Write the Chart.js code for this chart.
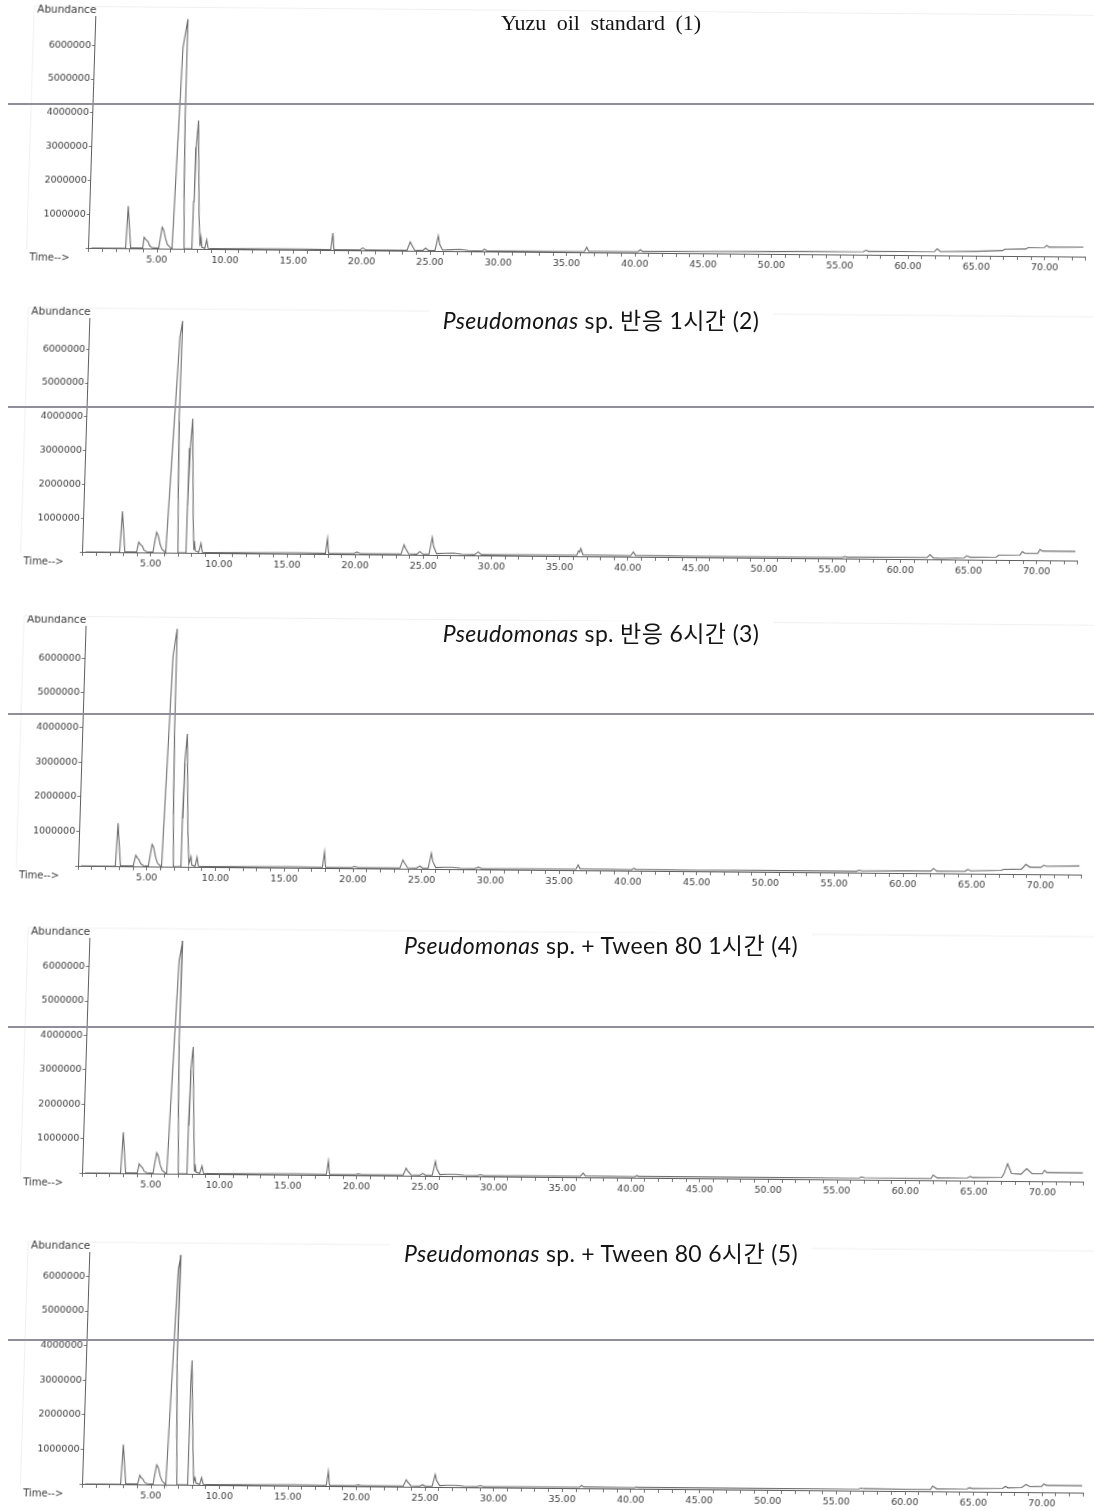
<!DOCTYPE html>
<html>
<head>
<meta charset="utf-8">
<script src="https://cdn.jsdelivr.net/npm/chart.js@4.4.1/dist/chart.umd.min.js"></script>
<style>
  html, body { margin: 0; padding: 0; background: #fff; }
  body { width: 1094px; height: 1510px; position: relative; overflow: hidden; }
  canvas.panel { position: absolute; left: 0; transform-origin: 547px 250px; transform: rotate(0.5deg) skewX(-1.3deg); }
  .title { position: absolute; left: 601px; transform: translateX(-50%); background: #fff; padding: 0 14px; white-space: nowrap; color: #141414; line-height: 1; z-index: 3; }
  .t-serif { font-family: "Liberation Serif", "Times New Roman", serif; font-size: 22px; word-spacing: 5px; }
  .t-sans { font-family: "Lato", "Noto Sans CJK KR", sans-serif; font-size: 23px; letter-spacing: 0.3px; }
  .t-sans .ko { font-family: "Noto Sans CJK KR", sans-serif; font-size: 23px; letter-spacing: 0.5px; }
  .rule { position: absolute; left: 8px; width: 1086px; height: 2px; background: #8e8e9e; z-index: 2; }
</style>
</head>
<body>
<div class="title t-serif" style="top:12px">Yuzu oil standard (1)</div>
<div class="title t-sans" style="top:308px"><i>Pseudomonas</i> sp. <span class="ko">반응</span> 1<span class="ko">시간</span> (2)</div>
<div class="title t-sans" style="top:621px"><i>Pseudomonas</i> sp. <span class="ko">반응</span> 6<span class="ko">시간</span> (3)</div>
<div class="title t-sans" style="top:933px"><i>Pseudomonas</i> sp. + Tween 80 1<span class="ko">시간</span> (4)</div>
<div class="title t-sans" style="top:1241px"><i>Pseudomonas</i> sp. + Tween 80 6<span class="ko">시간</span> (5)</div>

<div class="rule" style="top:103px"></div>
<div class="rule" style="top:406px"></div>
<div class="rule" style="top:713px"></div>
<div class="rule" style="top:1026px"></div>
<div class="rule" style="top:1339px"></div>

<canvas class="panel" id="c1" width="1094" height="295" style="top:2px"></canvas>
<canvas class="panel" id="c2" width="1094" height="295" style="top:306px"></canvas>
<canvas class="panel" id="c3" width="1094" height="295" style="top:620px"></canvas>
<canvas class="panel" id="c4" width="1094" height="295" style="top:927px"></canvas>
<canvas class="panel" id="c5" width="1094" height="295" style="top:1238px"></canvas>

<script>
// Retention time axis (min)
const timeTickValues = [5, 10, 15, 20, 25, 30, 35, 40, 45, 50, 55, 60, 65, 70];
const timeTickLabels = ['5.00', '10.00', '15.00', '20.00', '25.00', '30.00', '35.00',
                        '40.00', '45.00', '50.00', '55.00', '60.00', '65.00', '70.00'];
// Abundance axis (values in millions of counts)
const abundanceTickValues = [1, 2, 3, 4, 5, 6];
const abundanceTickLabels = ['1000000', '2000000', '3000000', '4000000', '5000000', '6000000'];
const axisTitles = ['Abundance', 'Time-->'];

// Total ion chromatograms: [retention time (min), abundance (x10^6)]
const standardTrace = [
  [0.2,0],[2.7,0],[2.8,1.25],[3.07,0.01],
  [3.95,0.01],[4.03,0.33],[4.15,0.27],[4.34,0.2],[4.45,0.08],[4.65,0.02],
  [5.12,0.01],[5.22,0.3],[5.33,0.63],[5.45,0.55],[5.6,0.3],[5.75,0.12],[5.95,0.04],[6.08,0.01],
  [6.1,0],[6.44,5.95],[6.74,6.8],[6.76,3.9],[6.86,1.5],[6.77,3.8],[6.87,1.5],[6.98,0],
  [7.55,0],[7.57,1.4],[7.63,3.0],[7.58,1.4],[7.64,3.0],[7.75,3.8],[8.0,1.0],[8.14,0.08],
  [8.2,0.34],[8.28,0.05],[8.5,0.02],[8.62,0.27],[8.74,0.02],
  [9.5,0.01],[13,0.02],[15.5,0.02],[17.72,0.01],[17.84,0.5],[17.95,0.01],
  [19.85,0.01],[20.06,0.07],[20.3,0.01],
  [23.3,0.01],[23.52,0.26],[23.6,0.2],[23.85,0.02],
  [24.45,0.01],[24.65,0.08],[24.9,0.01],
  [25.35,0.01],[25.56,0.45],[25.68,0.2],[25.9,0.03],
  [26.5,0.04],[27.2,0.05],[27.8,0.02],
  [28.75,0.01],[28.98,0.06],[29.2,0.01],
  [33,0.02],[36.3,0.03],[36.45,0.15],[36.6,0.03],
  [40.2,0.03],[40.38,0.09],[40.55,0.04],
  [45,0.05],[50,0.07],[56.7,0.09],[56.9,0.13],[57.1,0.1],
  [61.9,0.11],[62.1,0.19],[62.35,0.11],[65,0.13],[66.9,0.16],[67.05,0.2],
  [68.6,0.21],[68.75,0.25],[69.95,0.26],[70.12,0.32],[70.3,0.27],[72.8,0.28]
];

const pseudo1hTrace = [
  [0.2,0],[2.7,0],[2.82,1.21],[3.08,0.01],
  [3.95,0.01],[4.08,0.3],[4.2,0.24],[4.36,0.18],[4.48,0.07],[4.68,0.02],
  [5.15,0.01],[5.25,0.3],[5.37,0.6],[5.5,0.5],[5.65,0.25],[5.8,0.1],[6.0,0.03],[6.07,0.01],
  [6.08,0],[6.63,6.39],[6.8,6.86],[6.76,3.95],[6.87,1.6],[6.78,3.9],[6.88,1.6],[6.98,0],
  [7.55,0],[7.57,1.4],[7.64,3.1],[7.58,1.4],[7.65,3.1],[7.76,3.97],[8.02,1.0],[8.14,0.08],
  [8.16,0.35],[8.25,0.06],[8.5,0.02],[8.65,0.28],[8.77,0.02],
  [9.5,0.01],[13,0.02],[15.5,0.03],[17.8,0.02],[17.92,0.46],[18.03,0.02],
  [19.9,0.02],[20.1,0.06],[20.35,0.02],
  [23.35,0.02],[23.55,0.29],[23.65,0.2],[23.9,0.03],
  [24.5,0.02],[24.72,0.1],[24.95,0.02],
  [25.4,0.02],[25.6,0.52],[25.72,0.25],[25.95,0.04],
  [26.6,0.05],[27.2,0.06],[27.8,0.03],
  [28.75,0.02],[29.0,0.1],[29.25,0.02],
  [33,0.03],[36.25,0.03],[36.35,0.15],[36.45,0.12],[36.52,0.23],[36.7,0.04],
  [40.2,0.03],[40.38,0.14],[40.55,0.04],
  [45,0.03],[50,0.03],[55.7,0.03],[55.9,0.06],[56.1,0.04],[60,0.05],
  [61.95,0.05],[62.15,0.14],[62.4,0.04],[63,0.03],[64.65,0.05],[64.85,0.11],[65.1,0.07],
  [67.0,0.08],[67.2,0.14],[68.75,0.15],[68.92,0.25],[69.1,0.2],[70.05,0.2],[70.2,0.32],[70.4,0.27],[72.8,0.27]
];

const pseudo6hTrace = [
  [0.2,0],[2.7,0],[2.8,1.24],[3.07,0.01],
  [4.0,0.01],[4.16,0.32],[4.28,0.25],[4.42,0.18],[4.55,0.07],[4.75,0.02],
  [5.1,0.01],[5.2,0.3],[5.32,0.64],[5.45,0.55],[5.6,0.28],[5.75,0.1],[5.95,0.03],[6.05,0.01],
  [6.06,0],[6.42,6.1],[6.66,6.88],[6.7,3.9],[6.8,1.5],[6.71,3.8],[6.81,1.5],[6.92,0],
  [7.45,0],[7.47,1.4],[7.53,3.0],[7.48,1.4],[7.54,3.0],[7.64,3.84],[7.9,1.0],[8.04,0.08],
  [8.18,0.3],[8.26,0.05],[8.5,0.02],[8.62,0.28],[8.74,0.02],
  [9.5,0.01],[13,0.02],[15.5,0.03],[17.76,0.02],[17.88,0.46],[17.99,0.02],
  [19.9,0.02],[20.1,0.05],[20.35,0.02],
  [23.4,0.02],[23.6,0.25],[23.7,0.18],[23.95,0.03],
  [24.6,0.02],[24.85,0.08],[25.05,0.02],
  [25.45,0.02],[25.65,0.45],[25.77,0.22],[26.0,0.04],
  [26.6,0.05],[27.2,0.05],[27.8,0.03],
  [28.85,0.02],[29.1,0.06],[29.35,0.02],
  [33,0.03],[36.2,0.03],[36.35,0.15],[36.5,0.04],
  [40.25,0.03],[40.4,0.07],[40.55,0.04],
  [45,0.03],[50,0.04],[56.6,0.04],[56.8,0.07],[57,0.05],[60,0.06],
  [62.0,0.06],[62.2,0.14],[62.45,0.06],[64.5,0.07],[64.7,0.12],[64.9,0.08],
  [67.1,0.1],[67.3,0.13],[68.6,0.14],[68.9,0.28],[69.2,0.2],[70.0,0.2],[70.2,0.26],[70.4,0.23],[72.8,0.25]
];

const tween1hTrace = [
  [0.2,0],[2.78,0],[2.89,1.19],[3.15,0.01],
  [4.0,0.01],[4.12,0.28],[4.22,0.22],[4.38,0.16],[4.5,0.06],[4.7,0.02],
  [5.15,0.01],[5.25,0.3],[5.37,0.6],[5.5,0.5],[5.65,0.25],[5.8,0.1],[6.0,0.03],[6.12,0.01],
  [6.14,0],[6.56,6.19],[6.78,6.77],[6.75,3.82],[6.86,1.64],[6.76,3.75],[6.87,1.64],[6.99,0],
  [7.6,0],[7.62,1.4],[7.68,3.0],[7.63,1.4],[7.69,3.0],[7.79,3.69],[8.05,1.0],[8.16,0.08],
  [8.19,0.28],[8.28,0.05],[8.55,0.02],[8.7,0.23],[8.82,0.02],
  [9.5,0.01],[13,0.02],[15.5,0.03],[17.78,0.02],[17.9,0.41],[18.01,0.02],
  [19.9,0.02],[20.1,0.04],[20.35,0.02],
  [23.38,0.02],[23.58,0.22],[23.68,0.15],[23.95,0.03],
  [24.6,0.02],[24.8,0.07],[25.0,0.02],
  [25.5,0.02],[25.7,0.42],[25.82,0.2],[26.05,0.04],
  [26.6,0.05],[27.2,0.05],[27.8,0.03],
  [28.8,0.02],[29.0,0.05],[29.25,0.02],
  [33,0.03],[36.3,0.03],[36.5,0.12],[36.65,0.04],
  [40.25,0.03],[40.4,0.06],[40.55,0.04],
  [45,0.04],[50,0.04],[56.6,0.05],[56.8,0.08],[57,0.06],[60,0.05],
  [61.85,0.05],[62.0,0.15],[62.3,0.07],[64.5,0.08],[64.7,0.12],[64.9,0.09],
  [67.0,0.1],[67.15,0.2],[67.4,0.5],[67.7,0.22],[68.4,0.2],[68.8,0.36],[69.2,0.22],
  [69.95,0.22],[70.1,0.32],[70.3,0.25],[72.9,0.25]
];

const tween6hTrace = [
  [0.2,0],[2.78,0],[2.89,1.15],[3.15,0.01],
  [4.02,0.01],[4.16,0.26],[4.26,0.2],[4.4,0.15],[4.52,0.06],[4.72,0.02],
  [5.15,0.01],[5.25,0.3],[5.37,0.57],[5.5,0.48],[5.65,0.24],[5.8,0.1],[6.0,0.03],[6.06,0.01],
  [6.07,0],[6.5,6.24],[6.66,6.64],[6.62,3.5],[6.77,1.33],[6.63,3.45],[6.78,1.33],[6.88,0],
  [7.63,0],[7.64,1.3],[7.68,2.9],[7.65,1.3],[7.69,2.9],[7.71,3.6],[7.98,1.0],[8.1,0.08],
  [8.19,0.21],[8.28,0.05],[8.55,0.02],[8.67,0.21],[8.8,0.02],
  [9.5,0.01],[13,0.02],[15.5,0.03],[17.78,0.02],[17.9,0.42],[18.01,0.02],
  [19.9,0.02],[20.1,0.04],[20.35,0.02],
  [23.4,0.02],[23.6,0.2],[23.7,0.14],[23.95,0.03],
  [24.6,0.02],[24.8,0.06],[25.0,0.02],
  [25.5,0.02],[25.7,0.36],[25.82,0.18],[26.05,0.04],
  [26.6,0.05],[27.2,0.05],[27.8,0.03],
  [28.8,0.02],[29.0,0.05],[29.25,0.02],
  [33,0.03],[36.25,0.03],[36.4,0.08],[36.55,0.04],
  [40.25,0.03],[40.4,0.05],[40.55,0.04],
  [45,0.04],[50,0.04],[56.6,0.05],[56.8,0.07],[57,0.06],[60,0.05],
  [61.85,0.05],[62.0,0.15],[62.3,0.07],[64.5,0.08],[64.7,0.11],[64.9,0.09],
  [67.1,0.1],[67.3,0.16],[67.5,0.12],[68.5,0.13],[68.8,0.22],[69.1,0.16],
  [69.95,0.17],[70.1,0.24],[70.3,0.2],[72.9,0.2]
];

const traces = [standardTrace, pseudo1hTrace, pseudo6hTrace, tween1hTrace, tween6hTrace];

// Plot frame geometry for each canvas (pixels inside the canvas)
const TIME_MAX = 73;
const BASELINE_Y = 250;
const panelFrames = [
  { id: 'c1', x0: 88.7, pxPerMin: 13.66, pxPerMillion: 33.8, yMax: 6.85 },
  { id: 'c2', x0: 82.8, pxPerMin: 13.63, pxPerMillion: 33.8, yMax: 6.92 },
  { id: 'c3', x0: 78.2, pxPerMin: 13.75, pxPerMillion: 34.6, yMax: 6.92 },
  { id: 'c4', x0: 82.4, pxPerMin: 13.72, pxPerMillion: 34.4, yMax: 6.83 },
  { id: 'c5', x0: 82.5, pxPerMin: 13.71, pxPerMillion: 34.6, yMax: 6.7 }
];

const INK = '#3a3a3a';
const AXIS = '#5e5e5e';
const TRACE = '#6c6c6c';

// Faint plot frame, "Abundance" and "Time-->" captions
const chromFrame = {
  id: 'chromFrame',
  beforeDraw(chart) {
    const { ctx, chartArea: a } = chart;
    ctx.save();
    ctx.strokeStyle = '#f0f0f3';
    ctx.lineWidth = 1;
    ctx.beginPath();
    ctx.moveTo(a.left - 62, a.top - 10);
    ctx.lineTo(chart.width, a.top - 10);
    ctx.moveTo(a.left - 62, a.top - 10);
    ctx.lineTo(a.left - 62, a.bottom + 2);
    ctx.stroke();
    ctx.restore();
  },
  afterDraw(chart) {
    const { ctx, chartArea: a } = chart;
    ctx.save();
    ctx.fillStyle = INK;
    ctx.textBaseline = 'middle';
    ctx.textAlign = 'left';
    ctx.font = '10.5px "DejaVu Sans"';
    ctx.fillText(axisTitles[0], a.left - 59, a.top - 6);
    ctx.font = '10px "DejaVu Sans"';
    ctx.fillText(axisTitles[1], a.left - 59, a.bottom + 10);
    ctx.restore();
  }
};

function labelFrom(values, labels, v) {
  const i = values.indexOf(Math.round(v * 1000) / 1000);
  return i >= 0 ? labels[i] : '';
}

panelFrames.forEach((f, k) => {
  const canvas = document.getElementById(f.id);
  const right = f.x0 + TIME_MAX * f.pxPerMin;
  new Chart(canvas, {
    type: 'scatter',
    data: {
      datasets: [{
        data: traces[k].map(([t, a]) => ({ x: t, y: a })),
        showLine: true,
        borderColor: TRACE,
        borderWidth: 1.1,
        pointRadius: 0,
        tension: 0,
        clip: 4
      }]
    },
    options: {
      responsive: false,
      animation: false,
      devicePixelRatio: 1,
      layout: { padding: { left: 0, right: canvas.width - right, top: BASELINE_Y - f.yMax * f.pxPerMillion, bottom: 0 } },
      plugins: { legend: { display: false }, tooltip: { enabled: false }, title: { display: false } },
      scales: {
        x: {
          type: 'linear', min: 0, max: TIME_MAX,
          afterFit(s) { s.height = canvas.height - BASELINE_Y; },
          border: { display: true, color: AXIS, width: 1 },
          grid: { drawOnChartArea: false, drawTicks: true, tickLength: 4, color: '#777', lineWidth: 1 },
          ticks: {
            stepSize: 1, autoSkip: false, maxRotation: 0, includeBounds: false, maxTicksLimit: 200,
            padding: 2, color: INK, font: { family: 'DejaVu Sans', size: 9.5 },
            callback: v => labelFrom(timeTickValues, timeTickLabels, v)
          }
        },
        y: {
          type: 'linear', min: 0, max: f.yMax,
          afterFit(s) { s.width = f.x0; },
          border: { display: true, color: AXIS, width: 1 },
          grid: { drawOnChartArea: false, drawTicks: true, tickLength: 3, color: '#777', lineWidth: 1 },
          ticks: {
            stepSize: 1, includeBounds: false, padding: 1, color: INK,
            font: { family: 'DejaVu Sans', size: 9.5 },
            callback: v => labelFrom(abundanceTickValues, abundanceTickLabels, v)
          }
        }
      }
    },
    plugins: [chromFrame]
  });
});
</script>
</body>
</html>
